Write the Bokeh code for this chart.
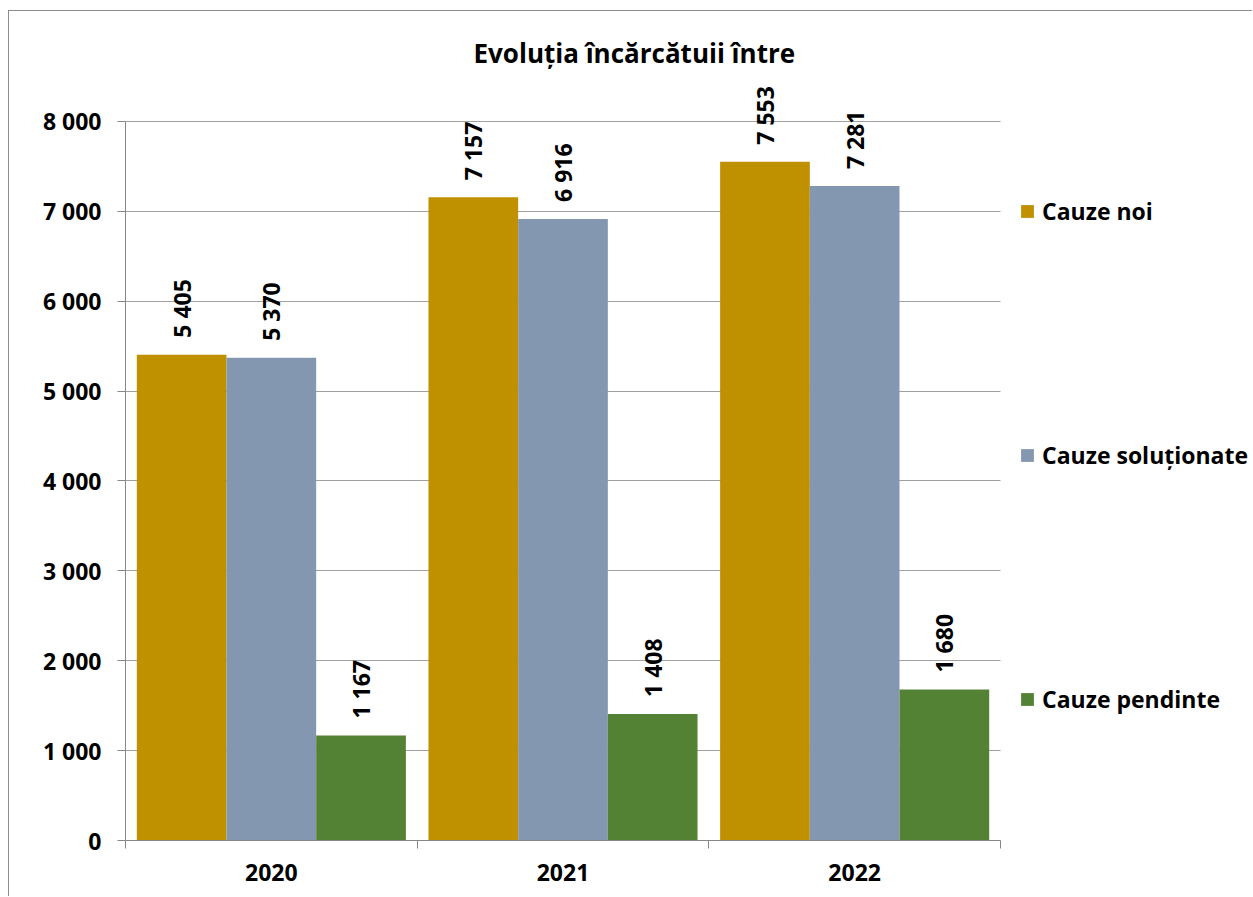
from bokeh.plotting import figure
from bokeh.models import (ColumnDataSource, Range1d, FixedTicker, Legend, LegendItem,
                          LabelSet)
from bokeh.core.properties import value
from bokeh.transform import dodge
from bokeh.embed import file_html
from bokeh.resources import INLINE

years = ["2020", "2021", "2022"]
cauze_noi = [5405, 7157, 7553]
cauze_solutionate = [5370, 6916, 7281]
cauze_pendinte = [1167, 1408, 1680]
series_names = ["Cauze noi", "Cauze soluționate", "Cauze pendinte"]
series_values = [cauze_noi, cauze_solutionate, cauze_pendinte]
colors = ["#BF9000", "#8497B0", "#548235"]
y_ticks = [0, 1000, 2000, 3000, 4000, 5000, 6000, 7000, 8000]

FONT = "Open Sans"
GRID = "#A0A0A0"
AXIS = "#868686"


def fmt(v):
    return f"{v:,}".replace(",", " ")


n = len(years)
W, H = 1244, 886
# plot area spans 0..n; extra room on the right of the frame holds the legend
x_end = n + 253.0 / (875.0 / n)
p = figure(width=W, height=H, output_backend="svg", toolbar_location=None,
           x_range=Range1d(0, x_end), y_range=Range1d(0, 8456),
           title="Evoluția încărcătuii între")
p.min_border_left = 116
p.min_border_right = 0
p.min_border_top = 69
p.min_border_bottom = 57
p.outline_line_color = None
p.background_fill_color = "white"
p.border_fill_color = "white"
p.styles = {"margin-left": "8px", "margin-top": "10px",
            "border-left": "1px solid #8C8C8C", "border-top": "1px solid #8C8C8C"}

p.title.text_font = FONT
p.title.text_font_size = "26px"
p.title.text_font_style = "bold"
p.title.text_color = "black"
p.title.align = "left"
p.title.offset = 348
p.title.standoff = 20

xcenters = [i + 0.5 for i in range(n)]
bw = 0.3075
offsets = [-bw, 0.0, bw]

# horizontal grid lines limited to the plot area
grid_ok = True
try:
    p.ygrid.cross_bounds = (0, n)
except Exception:
    grid_ok = False
if grid_ok:
    p.ygrid.grid_line_color = GRID
    p.ygrid.grid_line_width = 1
else:
    p.ygrid.grid_line_color = None
    gsrc = ColumnDataSource(dict(x0=[0] * len(y_ticks), x1=[n] * len(y_ticks),
                                 y=y_ticks))
    p.segment(x0="x0", x1="x1", y0="y", y1="y", source=gsrc, line_color=GRID,
              line_width=1)

items = []
for name, vals, col, off in zip(series_names, series_values, colors, offsets):
    src = ColumnDataSource(dict(x=xcenters, top=vals, lab=[fmt(v) for v in vals]))
    r = p.vbar(x=dodge("x", off, range=p.x_range), top="top", width=bw, source=src,
               fill_color=col, line_color=None)
    items.append(LegendItem(label=name, renderers=[r]))
    ls = LabelSet(x=dodge("x", off, range=p.x_range), y="top", text="lab", source=src,
                  angle=1.5708, text_align="left", text_baseline="middle",
                  y_offset=17, text_font=value(FONT), text_font_size=value("23px"),
                  text_font_style="bold", text_color="black")
    p.add_layout(ls)

# axes
p.yaxis.ticker = FixedTicker(ticks=y_ticks)
p.yaxis.bounds = (0, 8000)
p.yaxis.major_label_overrides = {t: fmt(t) for t in y_ticks}
p.yaxis.major_tick_out = 8
p.yaxis.major_tick_in = 0
p.yaxis.minor_tick_out = 0
p.yaxis.minor_tick_in = 0
p.yaxis.major_label_standoff = 16
p.yaxis.axis_line_color = AXIS
p.yaxis.major_tick_line_color = AXIS
p.yaxis.major_label_text_font = FONT
p.yaxis.major_label_text_font_size = "23px"
p.yaxis.major_label_text_font_style = "bold"
p.yaxis.major_label_text_color = "black"

p.xaxis.ticker = FixedTicker(ticks=xcenters, minor_ticks=list(range(n + 1)))
p.xaxis.bounds = (0, n)
p.xaxis.major_label_overrides = {c: y for c, y in zip(xcenters, years)}
p.xaxis.major_tick_out = 0
p.xaxis.major_tick_in = 0
p.xaxis.minor_tick_out = 8
p.xaxis.minor_tick_in = 0
p.xaxis.major_label_standoff = 15
p.xaxis.axis_line_color = AXIS
p.xaxis.minor_tick_line_color = AXIS
p.xaxis.major_label_text_font = FONT
p.xaxis.major_label_text_font_size = "23px"
p.xaxis.major_label_text_font_style = "bold"
p.xaxis.major_label_text_color = "black"

p.xgrid.grid_line_color = None

legend = Legend(items=items, location=(894, 125), orientation="vertical",
                padding=0, margin=0, spacing=212, glyph_width=16, glyph_height=16,
                label_height=30, label_standoff=7, border_line_color=None,
                background_fill_alpha=0, label_text_font=FONT,
                label_text_font_size="23px", label_text_font_style="bold",
                label_text_color="black")
p.add_layout(legend)

open("out.html", "w").write(file_html(p, INLINE))
